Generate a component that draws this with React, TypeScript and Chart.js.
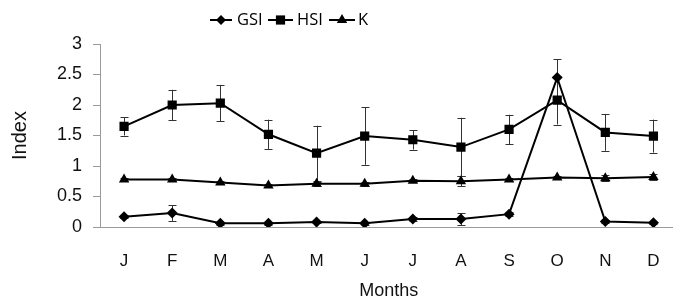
import React, { useEffect, useRef } from "react";
import { Chart, registerables } from "chart.js";

Chart.register(...registerables);

const months = ["J", "F", "M", "A", "M", "J", "J", "A", "S", "O", "N", "D"];
const gsi = [0.17, 0.23, 0.06, 0.06, 0.08, 0.06, 0.13, 0.13, 0.21, 2.45, 0.09, 0.07];
const gsiErr = [0.03, 0.13, 0.02, 0.02, 0.02, 0.02, 0.03, 0.1, 0.03, 0.3, 0.02, 0.02];
const hsi = [1.65, 2.0, 2.03, 1.52, 1.21, 1.49, 1.43, 1.31, 1.6, 2.08, 1.55, 1.49];
const hsiErr = [0.15, 0.25, 0.3, 0.24, 0.45, 0.47, 0.16, 0.48, 0.24, 0.4, 0.3, 0.27];
const kIdx = [0.78, 0.78, 0.73, 0.68, 0.71, 0.71, 0.76, 0.75, 0.78, 0.81, 0.8, 0.82];
const kErr = [0.03, 0.03, 0.03, 0.03, 0.03, 0.03, 0.03, 0.08, 0.03, 0.03, 0.05, 0.05];
const yTicks = [0, 0.5, 1, 1.5, 2, 2.5, 3];

const errors = [gsiErr, hsiErr, kErr];

const errorBarPlugin = {
  id: "errorBars",
  beforeDatasetsDraw(chart: any) {
    const ctx = chart.ctx;
    const y = chart.scales.y;
    ctx.save();
    ctx.strokeStyle = "#333";
    ctx.lineWidth = 1;
    chart.data.datasets.forEach((ds: any, di: number) => {
      const meta = chart.getDatasetMeta(di);
      const errs = errors[di];
      meta.data.forEach((pt: any, i: number) => {
        const v = ds.data[i];
        const e = errs[i];
        const top = y.getPixelForValue(v + e);
        const bot = y.getPixelForValue(v - e);
        const x = Math.round(pt.x) + 0.5;
        ctx.beginPath();
        ctx.moveTo(x, top);
        ctx.lineTo(x, bot);
        ctx.moveTo(x - 4, Math.round(top) + 0.5);
        ctx.lineTo(x + 4, Math.round(top) + 0.5);
        ctx.moveTo(x - 4, Math.round(bot) + 0.5);
        ctx.lineTo(x + 4, Math.round(bot) + 0.5);
        ctx.stroke();
      });
    });
    ctx.restore();
  },
};

const legendItems = [
  { label: "GSI", style: "rectRot", radius: 5, x0: 210, x1: 232, tx: 237 },
  { label: "HSI", style: "rect", radius: 6.5, x0: 268, x1: 293, tx: 297 },
  { label: "K", style: "triangle", radius: 6, x0: 329, x1: 355, tx: 358 },
];

const legendPlugin = {
  id: "customLegend",
  afterDraw(chart: any) {
    const ctx = chart.ctx;
    const cy = 20;
    ctx.save();
    legendItems.forEach((it) => {
      ctx.strokeStyle = "#000";
      ctx.lineWidth = 2;
      ctx.beginPath();
      ctx.moveTo(it.x0, cy);
      ctx.lineTo(it.x1, cy);
      ctx.stroke();
      ctx.fillStyle = "#000";
      const cx = (it.x0 + it.x1) / 2;
      const r = it.radius;
      ctx.beginPath();
      if (it.style === "rectRot") {
        ctx.moveTo(cx, cy - r);
        ctx.lineTo(cx + r, cy);
        ctx.lineTo(cx, cy + r);
        ctx.lineTo(cx - r, cy);
      } else if (it.style === "rect") {
        const s = r * Math.SQRT1_2;
        ctx.rect(cx - s, cy - s, 2 * s, 2 * s);
      } else {
        ctx.moveTo(cx, cy - r);
        ctx.lineTo(cx + r * 0.866, cy + r * 0.5);
        ctx.lineTo(cx - r * 0.866, cy + r * 0.5);
      }
      ctx.closePath();
      ctx.fill();
      ctx.font = "16.5px 'Open Sans', sans-serif";
      ctx.textBaseline = "middle";
      ctx.textAlign = "left";
      ctx.fillText(it.label, it.tx, cy);
    });
    ctx.restore();
  },
};

export default function App() {
  const ref = useRef<HTMLCanvasElement>(null);
  useEffect(() => {
    if (!ref.current) return;
    const lineDs = (label: string, data: number[], style: string, radius: number) => ({
      label,
      data,
      borderColor: "#000",
      backgroundColor: "#000",
      borderWidth: 2,
      pointStyle: style,
      pointRadius: radius,
      pointBorderWidth: 0,
      pointBackgroundColor: "#000",
      tension: 0,
    });
    const chart = new Chart(ref.current, {
      type: "line",
      data: {
        labels: months,
        datasets: [
          lineDs("GSI", gsi, "rectRot", 5.5),
          lineDs("HSI", hsi, "rect", 6.5),
          lineDs("K", kIdx, "triangle", 6),
        ],
      },
      options: {
        responsive: false,
        animation: false,
        devicePixelRatio: 1,
        layout: { padding: { top: 44, left: 0, right: 0, bottom: 0 } },
        plugins: { legend: { display: false }, tooltip: { enabled: false } },
        scales: {
          x: {
            type: "category",
            offset: true,
            grid: { display: false, drawTicks: false },
            border: { display: true, color: "#9a9a9a", width: 1 },
            ticks: {
              color: "#111",
              padding: 24,
              font: { family: "'Liberation Sans', Arial, sans-serif", size: 17 },
              maxRotation: 0,
              autoSkip: false,
            },
            title: {
              display: true,
              text: "Months",
              color: "#111",
              padding: { top: 0, bottom: 0 },
              font: { family: "'Liberation Sans', Arial, sans-serif", size: 18 },
            },
            afterFit: (s: any) => {
              s.height = 75;
            },
          },
          y: {
            type: "linear",
            min: 0,
            max: 3,
            afterBuildTicks: (s: any) => {
              s.ticks = yTicks.map((v) => ({ value: v }));
            },
            grid: {
              display: true,
              drawOnChartArea: false,
              drawTicks: true,
              tickLength: 7,
              color: "#9a9a9a",
            },
            border: { display: true, color: "#9a9a9a", width: 1 },
            ticks: {
              color: "#111",
              padding: 11,
              font: { family: "'Liberation Sans', Arial, sans-serif", size: 18 },
              callback: (v: any) => String(v),
            },
            title: {
              display: true,
              text: "Index",
              color: "#111",
              padding: { top: 8, bottom: 0 },
              font: { family: "'Liberation Sans', Arial, sans-serif", size: 20 },
            },
            afterFit: (s: any) => {
              s.width = 100;
            },
          },
        },
      },
      plugins: [errorBarPlugin, legendPlugin],
    } as any);
    return () => chart.destroy();
  }, []);
  return (
    <div
      style={{
        position: "fixed",
        left: 0,
        top: 0,
        width: 673,
        height: 302,
        overflow: "hidden",
        background: "#fff",
      }}
    >
      <canvas ref={ref} width={684} height={302} style={{ width: 684, height: 302, display: "block" }} />
    </div>
  );
}
